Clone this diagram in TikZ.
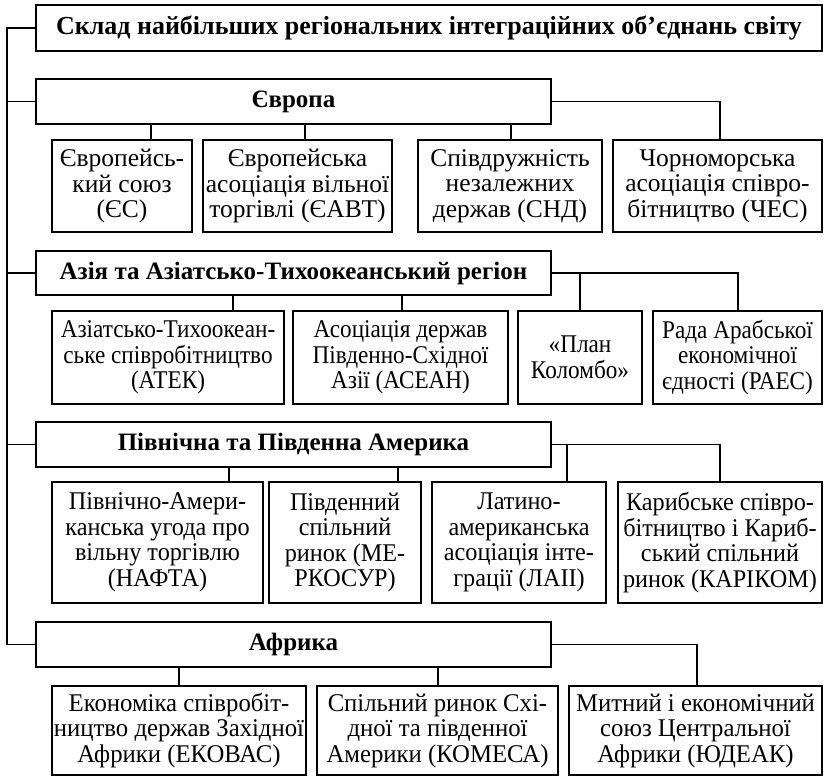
\documentclass[tikz,border=0pt]{standalone}
\usepackage{fontspec}
\setmainfont{Liberation Serif}
\newfontfamily\condA[FakeStretch=0.91]{Liberation Serif}
\newfontfamily\condM[FakeStretch=0.95]{Liberation Serif}
\newfontfamily\condF[FakeStretch=0.97]{Liberation Serif}
\usetikzlibrary{calc}
\tikzset{
  box/.style={draw, line width=1.6pt, rectangle, inner sep=0pt, align=center,
    font=\fontsize{25.5}{25.5}\selectfont},
  boxA/.style={box, font=\condA\fontsize{25.5}{25.5}\selectfont},
  boxM/.style={box, font=\condM\fontsize{25.5}{25.5}\selectfont},
  boxF/.style={box, font=\condF\fontsize{25.5}{25.5}\selectfont},
  hbox/.style={box, font=\fontsize{25}{26}\selectfont\bfseries},
  tbox/.style={box, font=\fontsize{26}{26}\selectfont\bfseries},
  conn/.style={line width=1.6pt},
}
\begin{document}
\begin{tikzpicture}[x=1pt,y=-1pt]
\useasboundingbox (0,0) rectangle (826,777);
% headers
\node[tbox, minimum width=786pt, minimum height=46pt] (title) at (429,28) {Склад найбільших регіональних інтеграційних об’єднань світу};
\node[hbox, minimum width=515pt, minimum height=45pt] (europe) at (293.5,101.5) {Європа};
\node[hbox, minimum width=515pt, minimum height=44pt] (asia) at (293.5,273) {Азія та Азіатсько-Тихоокеанський регіон};
\node[hbox, minimum width=515pt, minimum height=45pt] (america) at (293.5,444.5) {Північна та Південна Америка};
\node[hbox, minimum width=515pt, minimum height=45pt] (africa) at (293.5,644.5) {Африка};
% Europe
\node[box, minimum width=140pt, minimum height=92pt] (e1) at (122,186) {Європейсь-\\кий союз\\(ЄС)};
\node[box, minimum width=189pt, minimum height=92pt] (e2) at (297.5,186) {Європейська\\асоціація вільної\\торгівлі (ЄАВТ)};
\node[box, minimum width=184pt, minimum height=92pt] (e3) at (510,186) {Співдружність\\незалежних\\держав (СНД)};
\node[box, minimum width=209pt, minimum height=92pt] (e4) at (717.5,186) {Чорноморська\\асоціація співро-\\бітництво (ЧЕС)};
% Asia
\node[boxA, minimum width=232pt, minimum height=93pt] (a1) at (168,357.5) {Азіатсько-Тихоокеан-\\ське співробітництво\\(АТЕК)};
\node[boxA, minimum width=215pt, minimum height=93pt] (a2) at (400.5,357.5) {Асоціація держав\\Південно-Східної\\Азії (АСЕАН)};
\node[boxA, minimum width=124pt, minimum height=93pt] (a3) at (580,357.5) {«План\\Коломбо»};
\node[boxA, minimum width=169pt, minimum height=93pt] (a4) at (737.5,357.5) {Рада Арабської\\економічної\\єдності (РАЕС)};
% America
\node[boxM, minimum width=211pt, minimum height=121pt] (m1) at (157.5,542.5) {Північно-Амери-\\канська угода про\\вільну торгівлю\\(НАФТА)};
\node[boxM, minimum width=152pt, minimum height=121pt] (m2) at (345,542.5) {Південний\\спільний\\ринок (МЕ-\\РКОСУР)};
\node[boxM, minimum width=174pt, minimum height=121pt] (m3) at (519,542.5) {Латино-\\американська\\асоціація інте-\\грації (ЛАІІ)};
\node[boxM, minimum width=204pt, minimum height=121pt] (m4) at (720,542.5) {Карибське співро-\\бітництво і Кариб-\\ський спільний\\ринок (КАРІКОМ)};
% Africa
\node[boxF, minimum width=254pt, minimum height=89pt] (f1) at (179,730.5) {Економіка співробіт-\\ництво держав Західної\\Африки (ЕКОВАС)};
\node[boxF, minimum width=241pt, minimum height=89pt] (f2) at (437.5,730.5) {Спільний ринок Схі-\\дної та південної\\Америки (КОМЕСА)};
\node[boxF, minimum width=253pt, minimum height=89pt] (f3) at (695.5,730.5) {Митний і економічний\\союз Центральної\\Африки (ЮДЕАК)};
% spine
\coordinate (sp) at (7,0);
\draw[conn] (title.west) -- (title.west -| sp) -- (africa.west -| sp) -- (africa.west);
\draw[conn] (europe.west) -- (europe.west -| sp);
\draw[conn] (asia.west) -- (asia.west -| sp);
\draw[conn] (america.west) -- (america.west -| sp);
% Europe links
\coordinate (ed1) at (151,0); \coordinate (ed2) at (305,0); \coordinate (ed3) at (511,0); \coordinate (ed4) at (720,0);
\draw[conn] (ed1 |- europe.south) -- (ed1 |- e1.north);
\draw[conn] (ed2 |- europe.south) -- (ed2 |- e2.north);
\draw[conn] (ed3 |- europe.south) -- (ed3 |- e3.north);
\draw[conn] (europe.east) -| (ed4 |- e4.north);
% Asia links
\coordinate (ad1) at (233,0); \coordinate (ad2) at (402,0); \coordinate (ad3) at (580,0); \coordinate (ad4) at (738,0);
\draw[conn] (ad1 |- asia.south) -- (ad1 |- a1.north);
\draw[conn] (ad2 |- asia.south) -- (ad2 |- a2.north);
\draw[conn] (ad3 |- asia.east) -- (ad3 |- a3.north);
\draw[conn] (asia.east) -| (ad4 |- a4.north);
% America links
\coordinate (md1) at (229,0); \coordinate (md2) at (398,0); \coordinate (md3) at (567,0); \coordinate (md4) at (720,0);
\draw[conn] (md1 |- america.south) -- (md1 |- m1.north);
\draw[conn] (md2 |- america.south) -- (md2 |- m2.north);
\draw[conn] (md3 |- america.east) -- (md3 |- m3.north);
\draw[conn] (america.east) -| (md4 |- m4.north);
% Africa links
\coordinate (fd1) at (179,0); \coordinate (fd2) at (438,0); \coordinate (fd3) at (697,0);
\draw[conn] (fd1 |- africa.south) -- (fd1 |- f1.north);
\draw[conn] (fd2 |- africa.south) -- (fd2 |- f2.north);
\draw[conn] (africa.east) -| (fd3 |- f3.north);
\end{tikzpicture}
\end{document}
